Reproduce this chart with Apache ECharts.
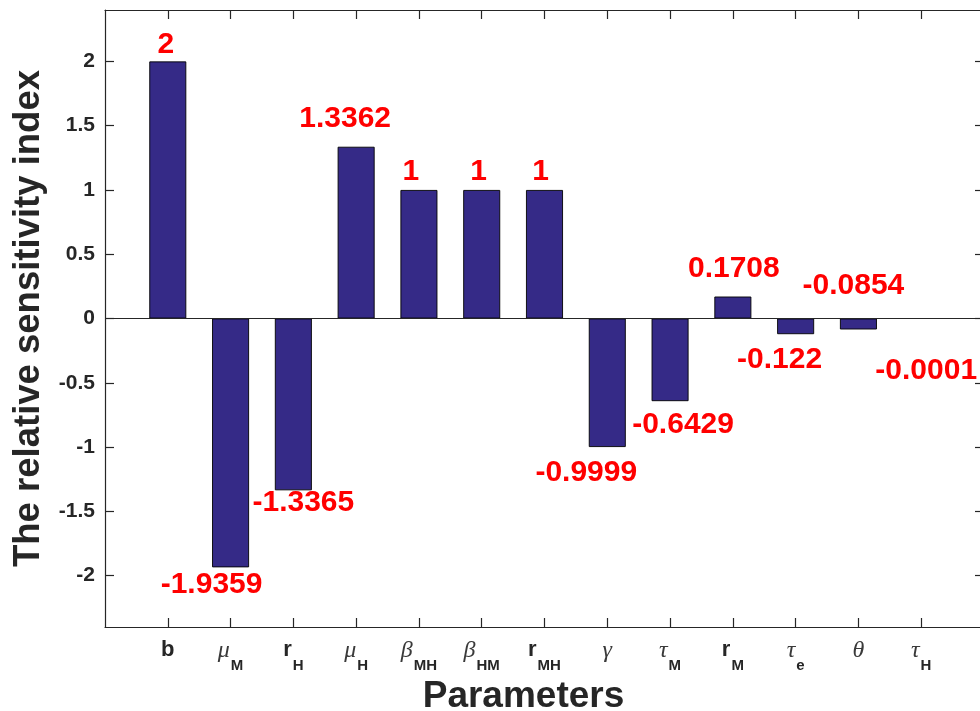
<!DOCTYPE html>
<html>
<head>
<meta charset="utf-8">
<script src="https://cdn.jsdelivr.net/npm/echarts@6/dist/echarts.min.js"></script>
<style>
  html, body { margin: 0; padding: 0; background: #fff; }
  #chart { width: 980px; height: 711px; }
</style>
</head>
<body>
<div id="chart"></div>
<script>
// Parameter names as rich-text tick labels (Greek symbols in italic serif, subscripts in bold)
const tickLabels = [
  '{bf|b}', '{g|μ}{sub|M}', '{bf|r}{sub|H}', '{g|μ}{sub|H}', '{g|β}{sub|MH}',
  '{g|β}{sub|HM}', '{bf|r}{sub|MH}', '{g|γ}', '{g|τ}{sub|M}', '{bf|r}{sub|M}',
  '{g|τ}{sub|e}', '{g|θ}', '{g|τ}{sub|H}'
];

// Relative sensitivity index of each parameter
const values = [2, -1.9359, -1.3365, 1.3362, 1, 1, 1, -0.9999, -0.6429, 0.1708, -0.122, -0.0854, -0.0001];

// Y-axis tick values
const yTicks = [-2, -1.5, -1, -0.5, 0, 0.5, 1, 1.5, 2];

// Pixel offsets of each value label from the end of its bar
const labelOffsets = [
  [-2, -17], [-19, 17], [10, 12], [-11, -28], [-8, -18], [-3, -18], [-4, -18],
  [-21, 26], [13, 24], [1, -28], [-16, 26], [-5, -44], [5, 52]
];

const positions = values.map((_, i) => i + 1);
const xTicks = positions.slice();
const axisColor = '#262626';

const barData = values.map((v, i) => [positions[i], v]);
const labelData = values.map((v, i) => ({
  value: [positions[i], v],
  label: { offset: labelOffsets[i] }
}));

const chart = echarts.init(document.getElementById('chart'), null, { renderer: 'canvas' });

const boxAxis = {
  axisLine: { show: true, onZero: false, lineStyle: { color: axisColor, width: 1.2 } },
  splitLine: { show: false }
};
const tickStyle = vals => ({ show: true, inside: true, length: 9, customValues: vals, lineStyle: { color: axisColor, width: 1.2 } });

chart.setOption({
  animation: false,
  backgroundColor: '#ffffff',
  grid: { left: 105, top: 10, width: 879, height: 617, containLabel: false, outerBoundsMode: 'none' },
  xAxis: [
    Object.assign({}, boxAxis, {
      type: 'value', min: 0, max: 14, position: 'bottom',
      axisTick: tickStyle(xTicks),
      axisLabel: {
        show: true, margin: 12, customValues: xTicks,
        color: axisColor,
        formatter: v => tickLabels[Math.round(v) - 1] || '',
        rich: {
          bf: { fontFamily: 'Liberation Sans', fontWeight: 'bold', fontSize: 22, lineHeight: 26, verticalAlign: 'top', color: axisColor },
          g: { fontFamily: 'Liberation Serif', fontStyle: 'italic', fontWeight: 'normal', fontSize: 24, lineHeight: 26, verticalAlign: 'top', color: '#3a3a3a' },
          sub: { fontFamily: 'Liberation Sans', fontWeight: 'bold', fontSize: 15, lineHeight: 15, padding: [19, 0, 0, 1], verticalAlign: 'top', color: axisColor }
        }
      },
      name: 'Parameters',
      nameLocation: 'middle',
      nameGap: 50,
      nameTextStyle: { fontFamily: 'Liberation Sans', fontWeight: 'bold', fontSize: 37, color: axisColor, padding: [0, 42, 0, 0] }
    }),
    Object.assign({}, boxAxis, {
      type: 'value', min: 0, max: 14, position: 'top',
      axisTick: tickStyle(xTicks),
      axisLabel: { show: false }
    })
  ],
  yAxis: [
    Object.assign({}, boxAxis, {
      type: 'value', min: -2.4, max: 2.4, position: 'left',
      axisTick: tickStyle(yTicks),
      axisLabel: {
        show: true, margin: 10, customValues: yTicks,
        fontFamily: 'Liberation Sans', fontWeight: 'bold', fontSize: 21, color: axisColor,
        formatter: v => String(v)
      },
      name: 'The relative sensitivity index',
      nameLocation: 'middle',
      nameGap: 52,
      nameTextStyle: { fontFamily: 'Liberation Sans', fontWeight: 'bold', fontSize: 36.5, color: axisColor }
    }),
    Object.assign({}, boxAxis, {
      type: 'value', min: -2.4, max: 2.4, position: 'right',
      axisTick: tickStyle(yTicks),
      axisLabel: { show: false }
    })
  ],
  series: [
    {
      type: 'bar',
      xAxisIndex: 0, yAxisIndex: 0,
      data: barData,
      barWidth: 37,
      itemStyle: { color: '#352A87', borderColor: '#000000', borderWidth: 0.9 },
      markLine: {
        silent: true,
        symbol: 'none',
        label: { show: false },
        lineStyle: { color: axisColor, width: 1, type: 'solid' },
        data: [{ yAxis: 0 }]
      },
      z: 2
    },
    {
      type: 'scatter',
      xAxisIndex: 0, yAxisIndex: 0,
      data: labelData,
      symbolSize: 0,
      silent: true,
      itemStyle: { opacity: 1 },
      label: {
        show: true,
        position: 'inside',
        formatter: p => String(p.value[1]),
        fontFamily: 'Liberation Sans', fontWeight: 'bold', fontSize: 30, color: '#FF0000', opacity: 1
      },
      z: 5
    }
  ]
});
</script>
</body>
</html>
